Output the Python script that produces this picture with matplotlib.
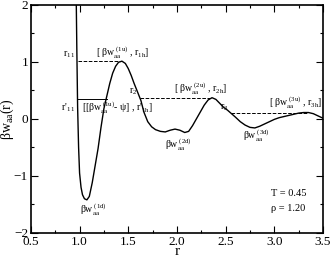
import numpy as np
import matplotlib.pyplot as plt

plt.rcParams['font.family'] = 'Liberation Serif'
plt.rcParams['mathtext.fontset'] = 'custom'
plt.rcParams['mathtext.rm'] = 'Liberation Serif'
plt.rcParams['mathtext.it'] = 'Liberation Serif:italic'

# Kurve beta*w_aa(r)
r = [0.965, 0.972, 0.98, 0.99, 1.0, 1.015, 1.03, 1.05, 1.075, 1.10, 1.13, 1.16,
     1.19, 1.22, 1.25, 1.28, 1.31, 1.34, 1.37, 1.40, 1.435, 1.47, 1.50, 1.53,
     1.56, 1.60, 1.63, 1.66, 1.70, 1.74, 1.78, 1.83, 1.88, 1.93, 1.98, 2.03,
     2.08, 2.12, 2.16, 2.20, 2.24, 2.28, 2.32, 2.36, 2.40, 2.44, 2.48, 2.52,
     2.56, 2.60, 2.65, 2.70, 2.75, 2.80, 2.85, 2.90, 2.95, 3.00, 3.05, 3.10,
     3.15, 3.20, 3.25, 3.30, 3.35, 3.40, 3.45, 3.50]
w = [2.2, 1.2, 0.2, -0.5, -0.95, -1.2, -1.33, -1.40, -1.42, -1.36, -1.12, -0.82,
     -0.52, -0.15, 0.18, 0.40, 0.62, 0.80, 0.92, 0.99, 1.01, 0.97, 0.88, 0.76,
     0.62, 0.45, 0.32, 0.12, -0.05, -0.14, -0.19, -0.22, -0.23, -0.20, -0.18, -0.20,
     -0.24, -0.22, -0.12, 0.0, 0.12, 0.24, 0.33, 0.37, 0.34, 0.27, 0.20, 0.15,
     0.09, 0.03, -0.05, -0.11, -0.15, -0.16, -0.13, -0.09, -0.05, -0.01, 0.02, 0.04,
     0.06, 0.08, 0.10, 0.11, 0.11, 0.09, 0.05, 0.01]

# Hilfslinien: Anfang, Ende, Hoehe, Stil
hl_start = [0.98, 0.98, 1.62, 2.55]
hl_end = [1.435, 1.28, 2.36, 3.34]
hl_w = [1.01, 0.35, 0.37, 0.10]
hl_style = ['--', '-', '--', '--']

fig = plt.figure(figsize=(3.32, 2.58), dpi=100)
ax = fig.add_axes([0.093, 0.097, 0.880, 0.885])

ax.plot(r, w, color='black', linewidth=1.0)
for a, b, y, ls in zip(hl_start, hl_end, hl_w, hl_style):
    ax.plot([a, b], [y, y], color='black', linewidth=0.7, linestyle=ls)

fs = 7
ax.text(0.955, 1.12, r'r$_{\rm 1\,1}$', fontsize=fs, ha='right', va='center')
ax.text(1.445, 1.16, r'[ βw$_{\rm aa}^{\rm \ (1u)}$ , r$_{\rm 1h}$]', fontsize=fs, ha='center', va='center')
ax.text(0.955, 0.2, r"r'$_{\rm 1\,1}$", fontsize=fs, ha='right', va='center')
ax.text(1.02, 0.2, r"[[βw$_{\rm aa}^{\rm \ (1u)}$- ψ] , r'$_{\rm 1h}$]", fontsize=fs, ha='left', va='center')
ax.text(1.595, 0.48, r'r$_{\rm 2}$', fontsize=fs, ha='right', va='center')
ax.text(1.97, 0.53, r'[ βw$_{\rm aa}^{\rm \ (2u)}$ , r$_{\rm 2h}$]', fontsize=fs, ha='left', va='center')
ax.text(2.53, 0.19, r'r$_{\rm 3}$', fontsize=fs, ha='right', va='center')
ax.text(2.95, 0.28, r'[ βw$_{\rm aa}^{\rm \ (3u)}$ , r$_{\rm 3h}$]', fontsize=fs, ha='left', va='center')
ax.text(1.0, -1.6, r'βw$_{\rm aa}^{\rm \ (1d)}$', fontsize=fs, ha='left', va='center')
ax.text(1.88, -0.45, r'βw$_{\rm aa}^{\rm \ (2d)}$', fontsize=fs, ha='left', va='center')
ax.text(2.68, -0.3, r'βw$_{\rm aa}^{\rm \ (3d)}$', fontsize=fs, ha='left', va='center')
ax.text(2.97, -1.31, 'T = 0.45', fontsize=7.5, ha='left', va='center')
ax.text(2.97, -1.57, 'ρ = 1.20', fontsize=7.5, ha='left', va='center')

ax.set_xlim(0.5, 3.5)
ax.set_ylim(-2, 2)
ax.set_xticks(np.arange(0.5, 3.51, 0.5))
ax.set_xticks(np.arange(0.5, 3.51, 0.25), minor=True)
ax.set_yticks([-2, -1, 0, 1, 2])
ax.set_yticks(np.arange(-2, 2.01, 0.5), minor=True)
ax.set_xticklabels(['0.5', '1.0', '1.5', '2.0', '2.5', '3.0', '3.5'])
ax.tick_params(which='both', direction='in', top=True, right=True, labelsize=9.5, pad=2)
ax.tick_params(which='major', length=5, width=0.8)
ax.tick_params(which='minor', length=2.5, width=0.8)
for s in ax.spines.values():
    s.set_linewidth(1.2)

ax.set_xlabel('r', fontsize=11)
ax.xaxis.set_label_coords(0.5, -0.052)
ax.set_ylabel(r'βw$_{\rm aa}$(r)', fontsize=10)
ax.yaxis.set_label_coords(-0.05, 0.5)

plt.savefig('out.png', dpi=100)
